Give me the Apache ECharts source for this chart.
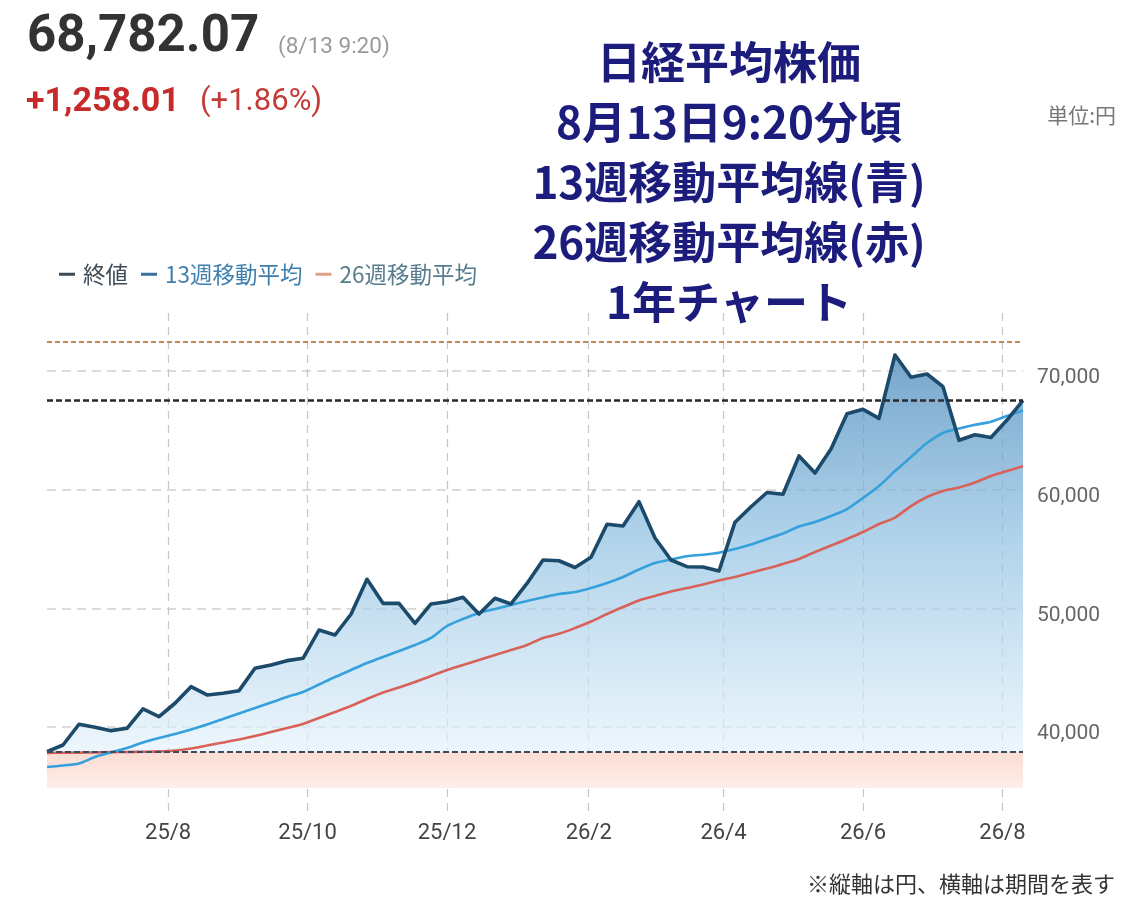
<!DOCTYPE html>
<html>
<head>
<meta charset="utf-8">
<title>日経平均株価 1年チャート</title>
<script src="https://cdn.jsdelivr.net/npm/echarts@6/dist/echarts.min.js"></script>
<style>
  html, body { margin: 0; padding: 0; background: #fff; }
  #chart { width: 1144px; height: 902px; }
</style>
</head>
<body>
<div id="chart"></div>
<script>
// 週足の日付
const weekDates = [
  '2025-06-09', '2025-06-16', '2025-06-23', '2025-06-30', '2025-07-07', '2025-07-14', '2025-07-21', '2025-07-28',
  '2025-08-04', '2025-08-11', '2025-08-18', '2025-08-25', '2025-09-01', '2025-09-08', '2025-09-15', '2025-09-22',
  '2025-09-29', '2025-10-06', '2025-10-13', '2025-10-20', '2025-10-27', '2025-11-03', '2025-11-10', '2025-11-17',
  '2025-11-24', '2025-12-01', '2025-12-08', '2025-12-15', '2025-12-22', '2025-12-29', '2026-01-05', '2026-01-12',
  '2026-01-19', '2026-01-26', '2026-02-02', '2026-02-09', '2026-02-16', '2026-02-23', '2026-03-02', '2026-03-09',
  '2026-03-16', '2026-03-23', '2026-03-30', '2026-04-06', '2026-04-13', '2026-04-20', '2026-04-27', '2026-05-04',
  '2026-05-11', '2026-05-18', '2026-05-25', '2026-06-01', '2026-06-08', '2026-06-15', '2026-06-22', '2026-06-29',
  '2026-07-06', '2026-07-13', '2026-07-20', '2026-07-27', '2026-08-03', '2026-08-10'
];
// 終値
const closeValues = [
  37920, 38480, 40230, 39980, 39690, 39890, 41520, 40870, 42000, 43400,
  42700, 42840, 43060, 44950, 45220, 45590, 45790, 48170, 47750, 49500,
  52450, 50420, 50420, 48740, 50370, 50560, 50930, 49520, 50850, 50370,
  52100, 54070, 54010, 53440, 54300, 57080, 56940, 58990, 55930, 54070,
  53510, 53480, 53150, 57260, 58560, 59760, 59620, 62840, 61400, 63430,
  66400, 66770, 66010, 71350, 69470, 69750, 68680, 64160, 64630, 64400,
  65870, 67520
];
// 13週移動平均
const ma13Values = [
  36630, 36760, 36920, 37470, 37850, 38230, 38690, 39070, 39410, 39790,
  40210, 40670, 41140, 41600, 42060, 42530, 42950, 43580, 44210, 44800,
  45390, 45900, 46400, 46910, 47500, 48510, 49100, 49610, 49940, 50280,
  50620, 50920, 51210, 51370, 51710, 52130, 52640, 53270, 53820, 54110,
  54390, 54520, 54690, 55000, 55370, 55840, 56310, 56890, 57280, 57780,
  58370, 59300, 60310, 61570, 62750, 63930, 64780, 65150, 65470, 65730,
  66210, 66670
];
// 26週移動平均
const ma26Values = [
  37810, 37830, 37840, 37860, 37880, 37890, 37910, 37940, 38020, 38190,
  38440, 38690, 38950, 39240, 39580, 39920, 40250, 40760, 41260, 41770,
  42360, 42910, 43330, 43790, 44300, 44800, 45220, 45650, 46070, 46490,
  46910, 47500, 47850, 48340, 48890, 49520, 50110, 50660, 51040, 51420,
  51710, 52010, 52350, 52640, 53000, 53360, 53740, 54160, 54750, 55290,
  55840, 56430, 57110, 57650, 58620, 59380, 59890, 60180, 60600, 61150,
  61570, 61990
];

// 基準線（高値・前日終値・安値）とその下の帯
const highRef = 72470;
const prevCloseRef = 67524;
const lowRef = 37920;
const bandBottom = 34860;

// 目盛り
const xTickDates = ['2025-08-01', '2025-10-01', '2025-12-01', '2026-02-01', '2026-04-01', '2026-06-01', '2026-08-01'];
const xTickLabels = ['25/8', '25/10', '25/12', '26/2', '26/4', '26/6', '26/8'];
const yTickValues = [40000, 50000, 60000, 70000];
const yTickLabels = ['40,000', '50,000', '60,000', '70,000'];
const xMin = '2025-06-09';
const xMax = '2026-08-10';
const yMin = 32750;
const yMax = 74890;

// テキスト
const titleLines = ['日経平均株価', '8月13日9:20分頃', '13週移動平均線(青)', '26週移動平均線(赤)', '1年チャート'];
const priceText = '68,782.07';
const timeText = '(8/13 9:20)';
const changeText = '+1,258.01';
const changePctText = '(+1.86%)';
const unitText = '単位:円';
const noteText = '※縦軸は円、横軸は期間を表す';

const FONT = 'Roboto, "Noto Sans CJK JP", sans-serif';
const CJK = '"Noto Sans CJK JP", Roboto, sans-serif';

// ローカル時刻でパース
function toTime(s) {
  const p = s.split('-').map(Number);
  return new Date(p[0], p[1] - 1, p[2]).getTime();
}
const xTickTimes = xTickDates.map(toTime);
const pts = arr => weekDates.map((d, i) => [toTime(d), arr[i]]);

const chart = echarts.init(document.getElementById('chart'), null, { renderer: 'canvas' });

function textEl(x, y, text, font, fill, align) {
  return {
    type: 'text', x: x, y: y, silent: true,
    style: {
      text: text, font: font, fill: fill,
      textAlign: align || 'left', align: align || 'left',
      textVerticalAlign: 'middle', verticalAlign: 'middle'
    }
  };
}

const graphics = [
  textEl(27, 38, priceText, 'bold 51px Roboto', '#333333'),
  textEl(278, 47, timeText, '22.5px Roboto', '#9a9a9a'),
  textEl(26, 102, changeText, 'bold 34px Roboto', '#c62a2a'),
  textEl(200, 102, changePctText, '31px Roboto', '#c23b37'),
  textEl(1116, 115, unitText, '21px ' + CJK, '#777777', 'right'),
  textEl(1115, 884, noteText, '22px ' + CJK, '#333333', 'right')
];
titleLines.forEach((t, i) => {
  graphics.push(textEl(729, 62 + i * 60, t, 'bold 44px ' + CJK, '#1c1c7c', 'center'));
});

const option = {
  animation: false,
  backgroundColor: '#ffffff',
  textStyle: { fontFamily: FONT },
  graphic: graphics,
  grid: { left: 47, right: 121, top: 313, bottom: 89, containLabel: false },
  legend: {
    left: 59, top: 263, padding: 0,
    icon: 'rect', itemWidth: 16, itemHeight: 3, itemGap: 13,
    textStyle: { fontSize: 22.5, fontFamily: CJK, padding: [0, 0, 0, 3] },
    data: [
      { name: '終値', itemStyle: { color: '#3b4b59' }, textStyle: { color: '#3d4b57' } },
      { name: '13週移動平均', itemStyle: { color: '#3b6f98' }, textStyle: { color: '#3f7fae' } },
      { name: '26週移動平均', itemStyle: { color: '#e3a287' }, textStyle: { color: '#587c8d' } }
    ]
  },
  xAxis: {
    // 日付はタイムスタンプの数値軸で扱う
    type: 'value',
    min: toTime(xMin),
    max: toTime(xMax),
    axisLine: { show: false },
    axisTick: { show: false, customValues: xTickTimes },
    axisLabel: {
      customValues: xTickTimes,
      color: '#444444', fontSize: 22, margin: 9,
      formatter: function (val) {
        let best = 0;
        xTickTimes.forEach((t, i) => { if (Math.abs(t - val) < Math.abs(xTickTimes[best] - val)) best = i; });
        return xTickLabels[best];
      }
    },
    splitLine: { show: true, lineStyle: { color: '#c6c6c6', width: 1.2, type: [8, 6] } }
  },
  yAxis: {
    type: 'value',
    position: 'right',
    min: yMin,
    max: yMax,
    axisLine: { show: false },
    axisTick: { show: false, customValues: yTickValues },
    axisLabel: {
      customValues: yTickValues,
      color: '#666666', fontSize: 21, margin: 14,
      verticalAlign: 'top', lineHeight: 14,
      formatter: function (val) {
        const i = yTickValues.indexOf(val);
        return i >= 0 ? yTickLabels[i] : '';
      }
    },
    splitLine: { show: true, lineStyle: { color: '#cfcfcf', width: 1.5, type: [9, 6] } }
  },
  series: [
    {
      // 終値の下の塗り
      name: 'fill',
      type: 'line',
      data: pts(closeValues),
      showSymbol: false,
      silent: true,
      lineStyle: { width: 0 },
      areaStyle: {
        origin: lowRef,
        color: new echarts.graphic.LinearGradient(0, 0, 0, 1, [
          { offset: 0, color: '#3b80b6' },
          { offset: 0.45, color: '#8dbfe1' },
          { offset: 1, color: '#e5f2fb' }
        ])
      },
      markArea: {
        silent: true,
        itemStyle: {
          color: new echarts.graphic.LinearGradient(0, 0, 0, 1, [
            { offset: 0, color: '#fbdcd2' },
            { offset: 1, color: '#fdeee9' }
          ])
        },
        data: [[{ yAxis: bandBottom }, { yAxis: lowRef }]]
      }
    },
    {
      name: '26週移動平均',
      type: 'line',
      data: pts(ma26Values),
      showSymbol: false,
      smooth: 0.3,
      color: '#d8625a',
      lineStyle: { width: 2.6, color: '#d8625a' }
    },
    {
      name: '13週移動平均',
      type: 'line',
      data: pts(ma13Values),
      showSymbol: false,
      smooth: 0.3,
      color: '#35a0dc',
      lineStyle: { width: 2.6, color: '#35a0dc' }
    },
    {
      name: '終値',
      type: 'line',
      data: pts(closeValues),
      showSymbol: false,
      color: '#1b4a6b',
      lineStyle: { width: 3.6, color: '#1b4a6b', join: 'round' },
      markLine: {
        silent: true,
        symbol: ['none', 'none'],
        label: { show: false },
        data: [
          { yAxis: highRef, lineStyle: { color: '#b98960', type: [5, 3], width: 2 } },
          { yAxis: prevCloseRef, lineStyle: { color: '#2a2a2a', type: [6, 3], width: 2.6 } },
          { yAxis: lowRef, lineStyle: { color: '#3a4c60', type: [6, 3], width: 2.2 } }
        ]
      }
    }
  ]
};

chart.setOption(option);
</script>
</body>
</html>
